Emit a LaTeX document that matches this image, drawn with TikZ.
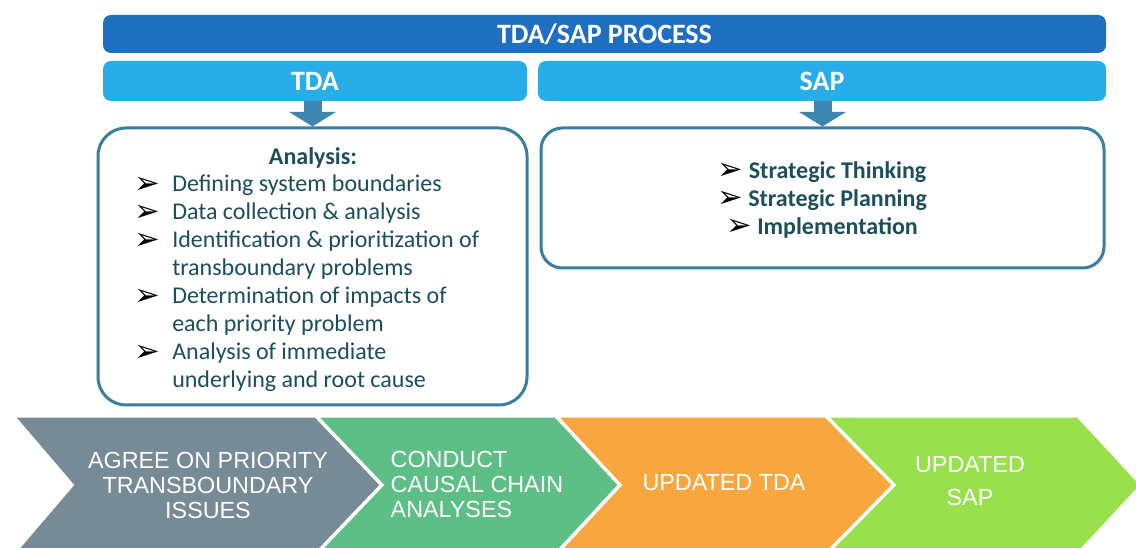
\documentclass[tikz,border=0pt]{standalone}
\usepackage{fontspec}
\setmainfont{Carlito}
\newfontfamily\chevfont{Liberation Sans}
\newfontfamily\dingfont{DejaVu Sans}
\usetikzlibrary{arrows.meta}

\definecolor{processblue}{HTML}{1F6FC0}
\definecolor{stepblue}{HTML}{29ADE8}
\definecolor{arrowblue}{HTML}{3C86B0}
\definecolor{panelline}{HTML}{3A7E9E}
\definecolor{paneltext}{HTML}{1D4E5C}
\definecolor{chevgray}{HTML}{778B97}
\definecolor{chevgreen}{HTML}{5DBE86}
\definecolor{chevorange}{HTML}{F8A73E}
\definecolor{chevlime}{HTML}{98E04C}

\newcommand{\bul}{\raisebox{-1pt}{\color{black}\dingfont\fontsize{23}{23}\selectfont ➢}}
\newcommand{\itm}{\makebox[28.5pt][l]{\bul}}

\begin{document}
\begin{tikzpicture}
  [x=0.75pt,y=-0.75pt,
   bar/.style={rounded corners=6pt,fill=#1,text=white,inner sep=0pt,
     font=\fontsize{21}{21}\selectfont\bfseries},
   panel/.style={draw=panelline,line width=2.25pt,fill=white,inner sep=0pt},
   paneltxt/.style={text=paneltext,inner sep=0pt,font=\fontsize{18}{21}\selectfont},
   downarrow/.style={draw=arrowblue,line width=13.5pt,-{Triangle[width=35pt,length=11pt]}},
   chev/.style={fill=#1,draw=white,line width=2.5pt,line join=miter},
   chevtext/.style={text=white,align=center,font=\chevfont\fontsize{17.5}{18.75}\selectfont}]

  \useasboundingbox (0,0) rectangle (1136,548);

  % header bars
  \node[bar=processblue,minimum width=752.25pt,minimum height=28.5pt] (process) at (604.5,34) {TDA/SAP PROCESS};
  \node[bar=stepblue,minimum width=318pt,minimum height=30pt] (tda) at (315,81) {TDA};
  \node[bar=stepblue,minimum width=426pt,minimum height=30pt] (sap) at (822,81) {SAP};

  % the two content panels
  \node[panel,rounded corners=21pt,minimum width=321.75pt,minimum height=207.75pt] (lbox) at (312.5,266.5) {};
  \node[panel,rounded corners=16pt,minimum width=422.25pt,minimum height=105pt] (rbox) at (822.5,198) {};

  \foreach \from/\to in {tda/lbox,sap/rbox}
    \draw[downarrow] (\from.south -| \to.north) -- (\to.north);

  \node[paneltxt,font=\fontsize{18}{21}\selectfont\bfseries] (analysis) at (313,158) {Analysis:};
  \node[paneltxt,anchor=north west] (tdalist) at (134,172) {%
    \begin{tabular}{@{}l@{}}
      \itm Defining system boundaries\\
      \itm Data collection \& analysis\\
      \itm Identification \& prioritization of\\
      \hspace*{28.5pt}transboundary problems\\
      \itm Determination of impacts of\\
      \hspace*{28.5pt}each priority problem\\
      \itm Analysis of immediate\\
      \hspace*{28.5pt}underlying and root cause
    \end{tabular}};
  \node[paneltxt,font=\fontsize{18}{21}\selectfont\bfseries] (saplist) at (822,201) {%
    \begin{tabular}{@{}c@{}}
      \bul{} Strategic Thinking\\
      \bul{} Strategic Planning\\
      \bul{} Implementation
    \end{tabular}};

  % process chevrons
  \draw[chev=chevgray]   (13,416) -- (316,416) -- (382,485) -- (316,554) -- (13,554) -- (72,485) -- cycle;
  \draw[chev=chevgreen]  (316,416) -- (556,416) -- (620,485) -- (556,554) -- (316,554) -- (382,485) -- cycle;
  \draw[chev=chevorange] (556,416) -- (826,416) -- (894,485) -- (826,554) -- (556,554) -- (620,485) -- cycle;
  \draw[chev=chevlime]   (826,416) -- (1078,416) -- (1142,485) -- (1078,554) -- (826,554) -- (894,485) -- cycle;

  \node[chevtext] (agree) at (208,485) {AGREE ON PRIORITY\\TRANSBOUNDARY\\ISSUES};
  \node[chevtext,align=left,anchor=west] (conduct) at (386,484) {CONDUCT\\CAUSAL CHAIN\\ANALYSES};
  \node[chevtext] (updtda) at (724,483) {UPDATED TDA};
  \node[chevtext,font=\chevfont\fontsize{17.5}{24.75}\selectfont] (updsap) at (970,481) {UPDATED\\SAP};
\end{tikzpicture}
\end{document}
